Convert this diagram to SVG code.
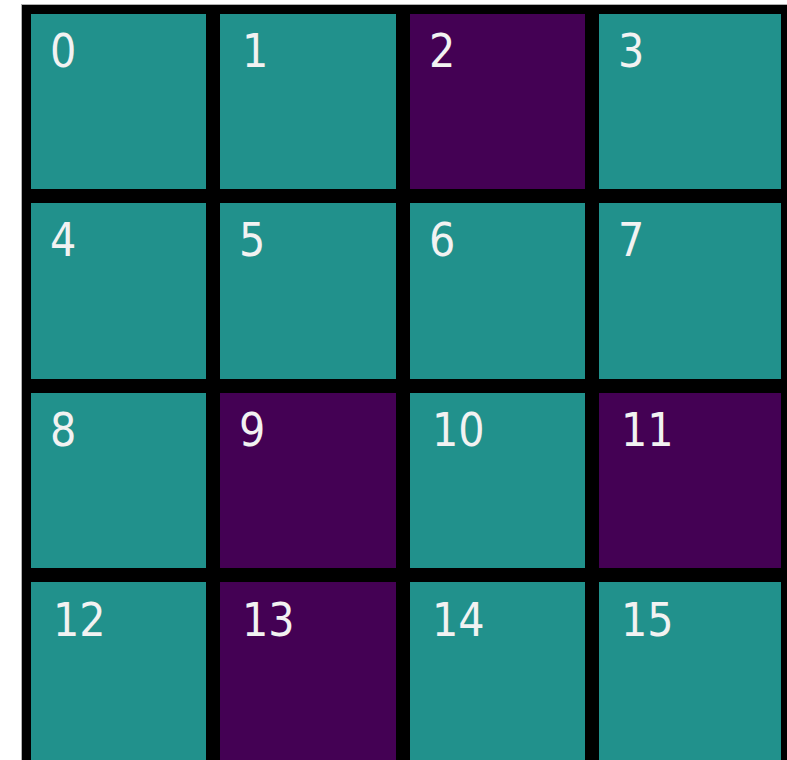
<svg xmlns="http://www.w3.org/2000/svg" width="787" height="760" viewBox="0 0 787 760">
<style>
.t{fill:#21918c}
.p{fill:#440154}
text{font-family:"DejaVu Sans Condensed","DejaVu Sans",sans-serif;font-stretch:condensed;font-size:46px;fill:#f2f2f2}
</style>
<rect x="0" y="0" width="787" height="760" fill="#ffffff"/>
<rect x="21.5" y="4.5" width="766" height="756" fill="none" stroke="#b0b0b0" stroke-width="1"/>
<rect x="22" y="5" width="765" height="755" fill="#000000"/>
<g id="cell0"><rect class="t" x="31" y="14" width="175" height="175"/><text x="50" y="66.5">0</text></g>
<g id="cell1"><rect class="t" x="220" y="14" width="176" height="175"/><text x="242" y="66.5">1</text></g>
<g id="cell2"><rect class="p" x="410" y="14" width="175" height="175"/><text x="429" y="66.5">2</text></g>
<g id="cell3"><rect class="t" x="599" y="14" width="182" height="175"/><text x="618" y="66.5">3</text></g>
<g id="cell4"><rect class="t" x="31" y="203" width="175" height="176"/><text x="50" y="256">4</text></g>
<g id="cell5"><rect class="t" x="220" y="203" width="176" height="176"/><text x="239" y="256">5</text></g>
<g id="cell6"><rect class="t" x="410" y="203" width="175" height="176"/><text x="429" y="256">6</text></g>
<g id="cell7"><rect class="t" x="599" y="203" width="182" height="176"/><text x="618" y="256">7</text></g>
<g id="cell8"><rect class="t" x="31" y="393" width="175" height="175"/><text x="50" y="445.5">8</text></g>
<g id="cell9"><rect class="p" x="220" y="393" width="176" height="175"/><text x="239" y="445.5">9</text></g>
<g id="cell10"><rect class="t" x="410" y="393" width="175" height="175"/><text x="432" y="445.5">10</text></g>
<g id="cell11"><rect class="p" x="599" y="393" width="182" height="175"/><text x="621" y="445.5">11</text></g>
<g id="cell12"><rect class="t" x="31" y="582" width="175" height="178"/><text x="53" y="635.5">12</text></g>
<g id="cell13"><rect class="p" x="220" y="582" width="176" height="178"/><text x="242" y="635.5">13</text></g>
<g id="cell14"><rect class="t" x="410" y="582" width="175" height="178"/><text x="432" y="635.5">14</text></g>
<g id="cell15"><rect class="t" x="599" y="582" width="182" height="178"/><text x="621" y="635.5">15</text></g>
<g id="connectors"></g>
</svg>
